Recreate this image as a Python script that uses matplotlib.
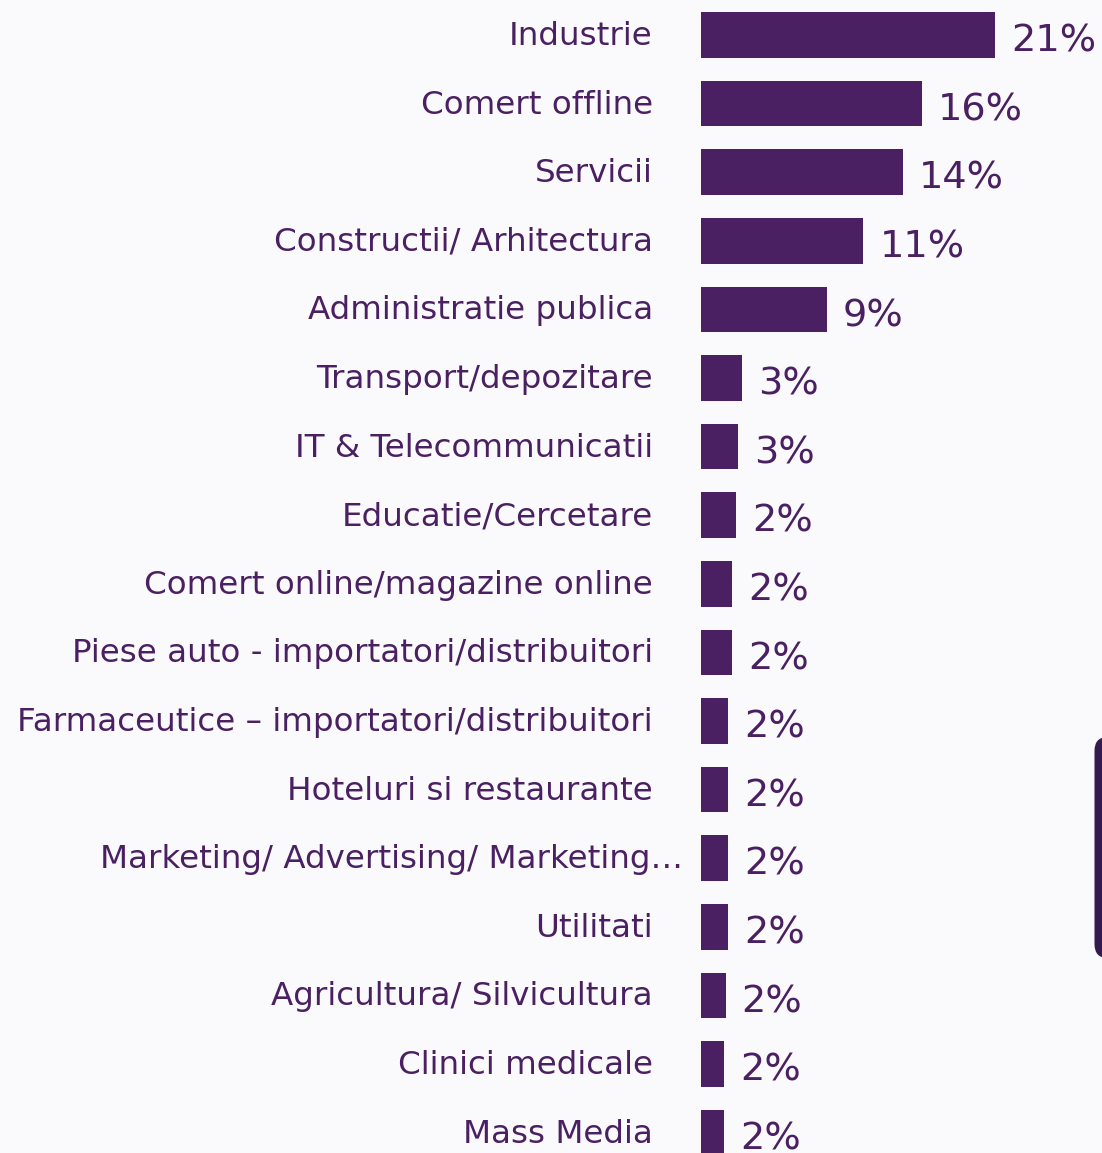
import matplotlib
matplotlib.use("Agg")
import matplotlib.pyplot as plt
from matplotlib.patches import FancyBboxPatch

categories = [
    "Industrie", "Comert offline", "Servicii", "Constructii/ Arhitectura",
    "Administratie publica", "Transport/depozitare", "IT & Telecommunicatii",
    "Educatie/Cercetare", "Comert online/magazine online",
    "Piese auto - importatori/distribuitori",
    "Farmaceutice \u2013 importatori/distribuitori", "Hoteluri si restaurante",
    "Marketing/ Advertising/ Marketing\u2026", "Utilitati",
    "Agricultura/ Silvicultura", "Clinici medicale", "Mass Media",
]
values = [21.0, 15.8, 14.4, 11.6, 9.0, 2.9, 2.65, 2.5, 2.2, 2.2,
          1.95, 1.95, 1.95, 1.95, 1.75, 1.65, 1.65]
value_labels = ["21%", "16%", "14%", "11%", "9%", "3%", "3%", "2%", "2%", "2%",
                "2%", "2%", "2%", "2%", "2%", "2%", "2%"]

BAR = "#4a2062"
TXT = "#4a2063"
BG = "#fafafc"

W, H, DPI = 1102, 1153, 100
fig = plt.figure(figsize=(W / DPI, H / DPI), dpi=DPI, facecolor=BG)
ax = fig.add_axes([701 / W, 0, (W - 701) / W, 1])
ax.set_facecolor(BG)

ypos = list(range(len(categories)))
ax.barh(ypos, values, height=0.663, color=BAR, left=0)

ax.set_xlim(0, (W - 701) / 14.0)
ax.set_ylim((H - 35) / 68.6, -35 / 68.6)
ax.axis("off")

for i, (cat, v, lab) in enumerate(zip(categories, values, value_labels)):
    extra = 21.6 if "\u2026" in cat else 0.0
    ax.annotate(cat, xy=(0, i), xycoords=("axes fraction", "data"),
                xytext=(-34.6 + extra, -7.2), textcoords="offset points",
                ha="right", va="baseline", fontsize=23.4, color=TXT,
                family="DejaVu Sans")
    ax.annotate(lab, xy=(v, i), xycoords="data",
                xytext=(11.5, -12.0), textcoords="offset points",
                ha="left", va="baseline", fontsize=27.5, color=TXT,
                family="DejaVu Sans", annotation_clip=False)

# dark rounded panel edge at right
x0 = 1094.5 / W
y0 = (H - 958) / H
y1 = (H - 737) / H
panel = FancyBboxPatch((x0, y0), 0.05, y1 - y0,
                       boxstyle="round,pad=0,rounding_size=0.012",
                       transform=fig.transFigure, facecolor="#341b4e",
                       edgecolor="none", clip_on=False)
fig.patches.append(panel)

fig.savefig("out.png", dpi=DPI, facecolor=BG)
